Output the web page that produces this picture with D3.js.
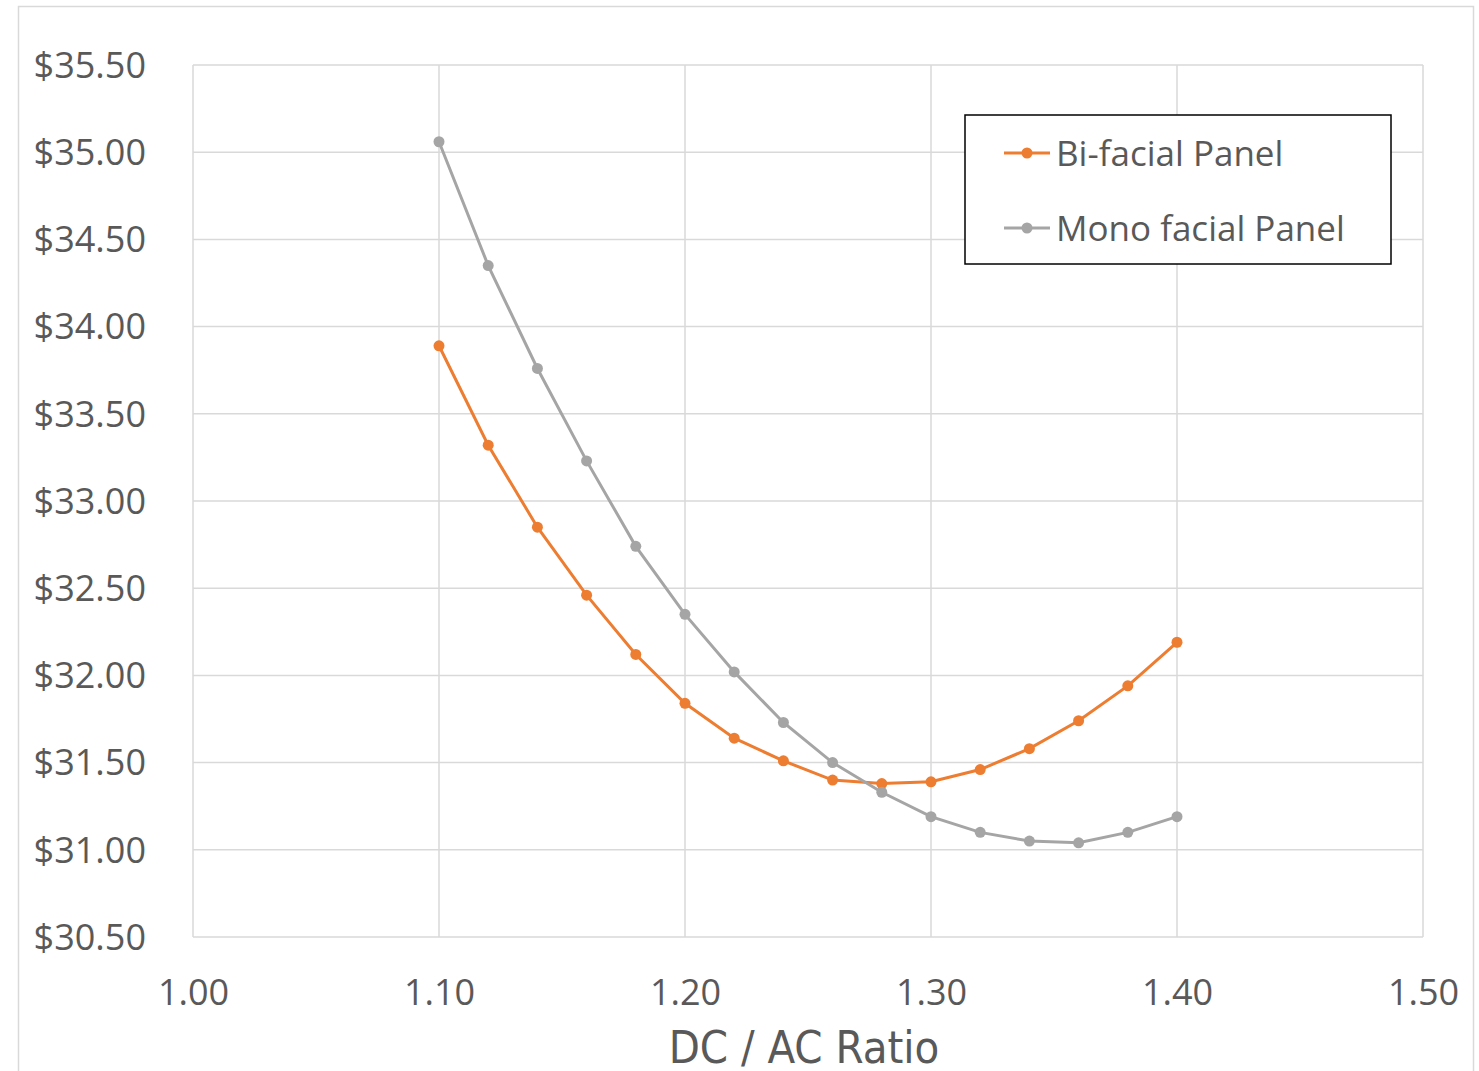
<!DOCTYPE html>
<html>
<head>
<meta charset="utf-8">
<script src="https://cdn.jsdelivr.net/npm/d3@7"></script>
<style>
  body { margin: 0; background: #fff; }
  svg { display: block; }
</style>
</head>
<body>
<script>
// Datos del gráfico
const ratios = [1.10, 1.12, 1.14, 1.16, 1.18, 1.20, 1.22, 1.24, 1.26, 1.28, 1.30, 1.32, 1.34, 1.36, 1.38, 1.40];
const bifacial = [33.89, 33.32, 32.85, 32.46, 32.12, 31.84, 31.64, 31.51, 31.40, 31.38, 31.39, 31.46, 31.58, 31.74, 31.94, 32.19];
const monofacial = [35.06, 34.35, 33.76, 33.23, 32.74, 32.35, 32.02, 31.73, 31.50, 31.33, 31.19, 31.10, 31.05, 31.04, 31.10, 31.19];
const xTicks = [1.00, 1.10, 1.20, 1.30, 1.40, 1.50];
const yTicks = [30.5, 31.0, 31.5, 32.0, 32.5, 33.0, 33.5, 34.0, 34.5, 35.0, 35.5];
const seriesNames = ["Bi-facial Panel", "Mono facial Panel"];
const seriesColors = ["#ED7D31", "#A5A5A5"];

const width = 1479;
const height = 1071;
const plot = { left: 193, right: 1423, top: 65, bottom: 937 };
const labelFont = "'Open Sans', sans-serif";
const textColor = "#595959";

const svg = d3.select("body")
  .append("svg")
  .attr("width", width)
  .attr("height", height);

// Borde exterior del gráfico
svg.append("rect")
  .attr("x", 18.5).attr("y", 6.5)
  .attr("width", 1455).attr("height", 1080)
  .attr("fill", "none")
  .attr("stroke", "#d9d9d9")
  .attr("stroke-width", 1.5);

const x = d3.scaleLinear().domain([1.0, 1.5]).range([plot.left, plot.right]);
const y = d3.scaleLinear().domain([30.5, 35.5]).range([plot.bottom, plot.top]);

// Cuadrícula
const grid = svg.append("g");
grid.selectAll(".hgrid")
  .data(yTicks)
  .enter()
  .append("line")
  .attr("x1", plot.left).attr("x2", plot.right)
  .attr("y1", d => y(d)).attr("y2", d => y(d))
  .attr("stroke", "#d9d9d9").attr("stroke-width", 1.5);
grid.selectAll(".vgrid")
  .data(xTicks)
  .enter()
  .append("line")
  .attr("x1", d => x(d)).attr("x2", d => x(d))
  .attr("y1", plot.top).attr("y2", plot.bottom)
  .attr("stroke", "#d9d9d9").attr("stroke-width", 1.5);

// Ejes (solo etiquetas)
const yAxis = svg.append("g")
  .attr("transform", `translate(${plot.left - 47},0)`)
  .call(d3.axisLeft(y).tickValues(yTicks).tickSize(0).tickPadding(0).tickFormat(d => "$" + d3.format(".2f")(d)));
yAxis.select(".domain").remove();
yAxis.selectAll("text")
  .attr("font-family", labelFont)
  .attr("font-size", 36)
  .attr("fill", textColor)
  .attr("dy", "0.34em");

const xAxis = svg.append("g")
  .attr("transform", `translate(0,${plot.bottom + 42})`)
  .call(d3.axisBottom(x).tickValues(xTicks).tickSize(0).tickPadding(0).tickFormat(d3.format(".2f")));
xAxis.select(".domain").remove();
xAxis.selectAll("text")
  .attr("font-family", labelFont)
  .attr("font-size", 36)
  .attr("fill", textColor)
  .attr("dy", "0.71em");

// Título del eje X
svg.append("text")
  .attr("x", 804)
  .attr("y", 1063)
  .attr("text-anchor", "middle")
  .attr("font-family", "'DejaVu Sans Condensed', 'DejaVu Sans', sans-serif")
  .attr("font-size", 45)
  .attr("fill", textColor)
  .text("DC / AC Ratio");

// Series
const series = [bifacial, monofacial];
const line = d3.line()
  .x((d, i) => x(ratios[i]))
  .y(d => y(d));

series.forEach(function(values, s) {
  const g = svg.append("g");
  g.append("path")
    .datum(values)
    .attr("fill", "none")
    .attr("stroke", seriesColors[s])
    .attr("stroke-width", 3)
    .attr("d", line);
  g.selectAll("circle")
    .data(values)
    .enter()
    .append("circle")
    .attr("cx", (d, i) => x(ratios[i]))
    .attr("cy", d => y(d))
    .attr("r", 5.5)
    .attr("fill", seriesColors[s]);
});

// Leyenda
const legend = svg.append("g");
legend.append("rect")
  .attr("x", 965).attr("y", 115)
  .attr("width", 426).attr("height", 149)
  .attr("fill", "#fff")
  .attr("stroke", "#000")
  .attr("stroke-width", 1.5);

seriesNames.forEach(function(name, s) {
  const ly = 153 + s * 75;
  legend.append("line")
    .attr("x1", 1004).attr("x2", 1050)
    .attr("y1", ly).attr("y2", ly)
    .attr("stroke", seriesColors[s])
    .attr("stroke-width", 3);
  legend.append("circle")
    .attr("cx", 1027).attr("cy", ly)
    .attr("r", 5.5)
    .attr("fill", seriesColors[s]);
  legend.append("text")
    .attr("x", 1056)
    .attr("y", ly)
    .attr("dy", "0.36em")
    .attr("font-family", labelFont)
    .attr("font-size", 35)
    .attr("fill", textColor)
    .text(name);
});
</script>
</body>
</html>
